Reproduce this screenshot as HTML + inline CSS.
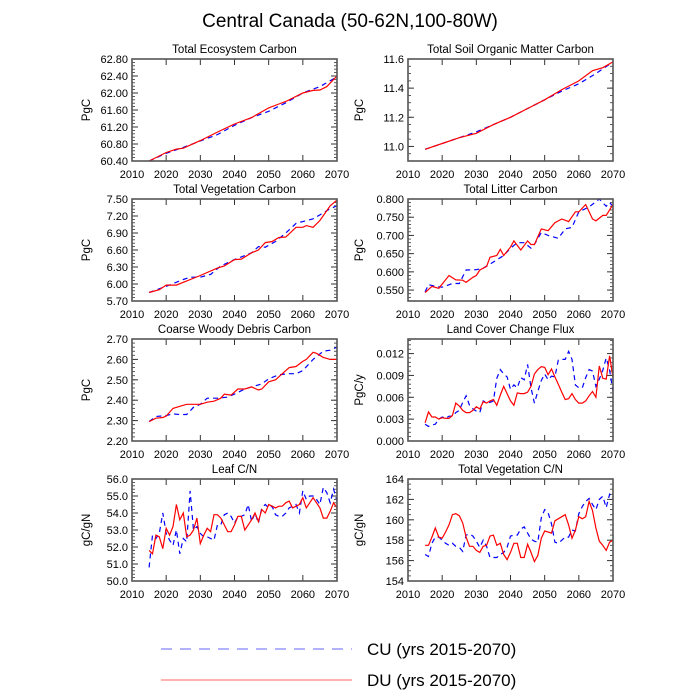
<!DOCTYPE html>
<html><head><meta charset="utf-8"><style>
body{margin:0;background:#fff;}
svg{display:block;font-family:"Liberation Sans",sans-serif;}
</style></head><body>
<svg id="chart" width="700" height="700" viewBox="0 0 700 700">
<text x="350" y="27" text-anchor="middle" font-size="19">Central Canada (50-62N,100-80W)</text>
<g id="plots"></g>
<g>
<line x1="161" y1="649" x2="352" y2="649" stroke="#6666ff" stroke-width="1" stroke-dasharray="11,8"/>
<text x="367" y="655" font-size="17">CU (yrs 2015-2070)</text>
<line x1="161" y1="680" x2="352" y2="680" stroke="#ff6666" stroke-width="1"/>
<text x="367" y="686" font-size="17">DU (yrs 2015-2070)</text>
</g>
</svg>
<script>
const ecoYearsDU=[2015,2020,2023,2025,2030,2035,2040,2045,2050,2053,2055,2060,2063,2065,2067,2070];
const ecoDU=[60.40,60.60,60.68,60.70,60.88,61.08,61.27,61.42,61.65,61.74,61.80,62.00,62.06,62.07,62.15,62.40];
const ecoYearsCU=[2015,2020,2025,2030,2035,2040,2045,2050,2055,2060,2065,2070];
const ecoCU=[60.40,60.58,60.72,60.87,61.02,61.24,61.42,61.57,61.77,62.00,62.15,62.38];

const vegYearsDU=[2015,2018,2020,2023,2025,2030,2035,2037,2040,2042,2045,2047,2049,2051,2053,2055,2058,2060,2061,2063,2065,2068,2070];
const vegDU=[5.85,5.90,5.98,5.98,6.03,6.15,6.28,6.32,6.43,6.44,6.55,6.60,6.73,6.75,6.82,6.83,7.00,7.00,7.03,7.00,7.12,7.38,7.48];
const vegYearsCU=[2015,2020,2025,2027,2030,2033,2036,2040,2045,2047,2049,2052,2055,2058,2063,2065,2068,2070];
const vegCU=[5.85,5.96,6.08,6.12,6.12,6.17,6.32,6.43,6.55,6.66,6.65,6.75,6.90,7.07,7.15,7.22,7.33,7.38];

const soilYearsDU=[2015,2020,2025,2030,2035,2040,2045,2050,2055,2060,2064,2067,2070];
const soilDU=[10.98,11.02,11.06,11.09,11.15,11.20,11.26,11.32,11.39,11.45,11.52,11.54,11.58];
const soilYearsCU=[2015,2020,2025,2030,2035,2040,2045,2050,2055,2060,2065,2070];
const soilCU=[10.98,11.02,11.06,11.10,11.15,11.20,11.26,11.32,11.38,11.43,11.50,11.58];

const litYearsDU=[2015,2017,2019,2022,2024,2026,2027,2029,2030,2031,2033,2034,2036,2037,2038,2040,2041,2043,2045,2046,2047,2049,2051,2053,2055,2057,2059,2060,2062,2064,2065,2067,2068,2070];
const litDU=[.543,.560,.555,.590,.578,.577,.571,.585,.590,.605,.615,.640,.645,.662,.645,.668,.685,.660,.685,.675,.675,.718,.713,.735,.745,.738,.765,.765,.785,.745,.740,.755,.755,.785];
const litYearsCU=[2015,2016,2018,2020,2023,2025,2027,2030,2032,2035,2038,2040,2042,2044,2046,2047,2049,2051,2054,2056,2058,2060,2063,2066,2068,2069,2070];
const litCU=[.545,.565,.560,.558,.568,.568,.605,.606,.610,.627,.645,.665,.680,.680,.665,.675,.708,.700,.692,.718,.722,.765,.778,.800,.780,.790,.780];

const cwdYearsDU=[2015,2017,2019,2020,2022,2024,2026,2030,2032,2034,2036,2037,2039,2041,2043,2045,2047,2048,2050,2052,2054,2056,2058,2060,2061,2063,2064,2066,2068,2070];
const cwdDU=[2.295,2.312,2.315,2.322,2.36,2.37,2.38,2.38,2.39,2.395,2.41,2.43,2.425,2.455,2.455,2.465,2.45,2.455,2.49,2.50,2.53,2.56,2.565,2.59,2.60,2.635,2.63,2.61,2.60,2.60];
const cwdYearsCU=[2015,2017,2020,2022,2024,2026,2028,2030,2032,2035,2038,2040,2043,2046,2048,2050,2053,2056,2058,2060,2063,2066,2068,2070];
const cwdCU=[2.295,2.32,2.325,2.333,2.33,2.33,2.365,2.38,2.41,2.41,2.415,2.43,2.455,2.47,2.48,2.505,2.525,2.53,2.53,2.545,2.60,2.64,2.645,2.66];

const annualYears=[];for(let y=2015;y<=2070;y++)annualYears.push(y);
const lccDU=[.0025,.004,.0033,.0033,.003,.0032,.0031,.0031,.0035,.0052,.0048,.0042,.0039,.0039,.0042,.0047,.0044,.0054,.0052,.0055,.0057,.0049,.0063,.0075,.0065,.0055,.0049,.0066,.0065,.0065,.0067,.0075,.0092,.0098,.0102,.0101,.0091,.0099,.0088,.0078,.0067,.0057,.0058,.0065,.0057,.0052,.0052,.0055,.0062,.0068,.006,.0103,.0086,.0085,.0117,.0087];
const lccCU=[.0023,.002,.0022,.0023,.003,.0033,.0031,.0034,.0034,.0039,.0042,.0053,.0062,.0049,.0044,.0041,.0039,.0055,.0053,.0053,.0055,.0086,.0098,.0092,.0088,.0071,.0077,.0073,.0087,.0084,.0105,.0073,.0052,.0068,.0083,.0092,.0084,.0089,.0088,.0111,.0112,.0112,.0123,.0112,.0077,.0073,.0073,.0087,.0098,.0096,.0075,.0085,.0097,.0114,.0097,.0068];
const leafDU=[51.8,51.6,52.7,52.6,51.9,53.1,52.7,53.2,54.5,53.6,54.0,52.6,52.7,53.0,53.7,52.2,52.7,53.1,52.9,53.9,53.9,53.7,53.3,52.9,52.9,53.3,53.8,53.8,53.0,53.3,53.6,54.0,53.5,54.2,54.0,54.5,54.4,54.3,54.4,54.4,54.6,54.7,54.3,54.4,54.5,54.9,54.3,54.6,54.9,54.6,54.3,53.7,53.7,54.1,54.6,54.3];
const leafCU=[50.8,52.7,52.5,52.8,54.0,52.8,52.4,52.1,53.0,51.6,52.5,52.3,55.3,53.0,53.2,52.8,52.6,52.6,52.5,52.4,53.3,53.3,53.9,54.0,53.8,53.4,53.8,53.8,53.9,54.5,53.5,54.0,53.4,54.3,54.5,54.3,54.4,53.9,53.8,53.8,54.0,54.3,54.4,54.5,54.0,55.3,54.8,55.0,55.0,54.8,54.5,55.5,55.2,54.6,55.4,54.7];
const vcnDU=[157.5,157.5,158.3,159.2,158.3,158.2,158.8,159.5,160.5,160.6,160.4,159.7,158.3,157.4,157.4,157.0,156.8,157.4,157.5,158.4,158.5,157.5,157.7,156.6,156.1,156.8,157.7,157.7,156.3,156.3,157.6,156.8,155.9,156.5,158.2,158.9,158.8,158.7,159.9,160.1,160.3,160.5,159.5,158.2,159.0,160.3,160.1,160.3,161.8,160.9,159.2,157.9,157.5,157.0,157.8,158.0];
const vcnCU=[156.6,156.4,157.7,158.3,158.3,158.0,157.7,157.5,157.7,157.4,157.3,156.9,158.5,158.6,158.4,157.9,157.3,158.0,157.4,156.3,156.3,156.3,156.6,156.8,157.3,158.4,158.5,158.5,159.1,159.3,158.7,158.1,157.9,157.8,160.2,161.0,160.7,159.6,157.8,157.7,158.0,158.3,158.3,159.0,158.9,160.6,161.3,161.8,162.1,161.5,161.0,162.0,162.3,161.2,162.5,162.0];

const xTicks=[2010,2020,2030,2040,2050,2060,2070];

const panels=[
 {name:'total-ecosystem-carbon',title:'Total Ecosystem Carbon',unit:'PgC',col:0,row:0,min:60.4,max:62.8,major:0.4,minor:0.08,dec:2,cu:[ecoYearsCU,ecoCU],du:[ecoYearsDU,ecoDU]},
 {name:'total-soil-organic-matter-carbon',title:'Total Soil Organic Matter Carbon',unit:'PgC',col:1,row:0,min:10.9,max:11.6,major:0.2,minor:0.05,dec:1,first:11.0,cu:[soilYearsCU,soilCU],du:[soilYearsDU,soilDU]},
 {name:'total-vegetation-carbon',title:'Total Vegetation Carbon',unit:'PgC',col:0,row:1,min:5.7,max:7.5,major:0.3,minor:0.06,dec:2,cu:[vegYearsCU,vegCU],du:[vegYearsDU,vegDU]},
 {name:'total-litter-carbon',title:'Total Litter Carbon',unit:'PgC',col:1,row:1,min:0.52,max:0.80,major:0.05,minor:0.01,dec:3,first:0.55,cu:[litYearsCU,litCU],du:[litYearsDU,litDU]},
 {name:'coarse-woody-debris-carbon',title:'Coarse Woody Debris Carbon',unit:'PgC',col:0,row:2,min:2.2,max:2.7,major:0.1,minor:0.02,dec:2,cu:[cwdYearsCU,cwdCU],du:[cwdYearsDU,cwdDU]},
 {name:'land-cover-change-flux',title:'Land Cover Change Flux',unit:'PgC/y',col:1,row:2,min:0,max:0.014,major:0.003,minor:0.0006,dec:3,cu:[annualYears,lccCU],du:[annualYears,lccDU]},
 {name:'leaf-cn',title:'Leaf C/N',unit:'gC/gN',col:0,row:3,min:50,max:56,major:1,minor:0.2,dec:1,cu:[annualYears,leafCU],du:[annualYears,leafDU]},
 {name:'total-vegetation-cn',title:'Total Vegetation C/N',unit:'gC/gN',col:1,row:3,min:154,max:164,major:2,minor:0.5,dec:0,cu:[annualYears,vcnCU],du:[annualYears,vcnDU]}
];

const NS='http://www.w3.org/2000/svg';
const root=document.getElementById('plots');
function mk(tag,attrs,parent){const e=document.createElementNS(NS,tag);for(const k in attrs)e.setAttribute(k,attrs[k]);parent.appendChild(e);return e;}

panels.forEach(p=>{
 const L=p.col?408:132, R=L+205, T=59+p.row*140, B=T+102;
 const xs=v=>L+(v-2010)/60*(R-L);
 const ys=v=>B-(v-p.min)/(p.max-p.min)*(B-T);
 const g=mk('g',{},root);
 
 
 const t=mk('text',{x:(L+R)/2,y:T-6,'text-anchor':'middle','font-size':11.5},g);t.textContent=p.title;
 
 
 const yl=mk('text',{x:0,y:0,'text-anchor':'middle','font-size':11.5,transform:`translate(${p.col?L-45:L-42},${(T+B)/2}) rotate(-90)`},g);yl.textContent=p.unit;
 
 
 const eps=1e-9;
 for(let v=p.min;v<=p.max+eps;v+=p.minor){const y=ys(v);
  mk('line',{x1:L,x2:L+3,y1:y,y2:y,stroke:'#333','stroke-width':0.8},g);
  mk('line',{x1:R,x2:R-3,y1:y,y2:y,stroke:'#333','stroke-width':0.8},g);}
 const start=p.first!==undefined?p.first:p.min;
 for(let v=start;v<=p.max+eps;v+=p.major){const y=ys(v);
  mk('line',{x1:L,x2:L+6,y1:y,y2:y,stroke:'#333','stroke-width':1},g);
  mk('line',{x1:R,x2:R-6,y1:y,y2:y,stroke:'#333','stroke-width':1},g);
  const tl=mk('text',{x:L-4,y:y+4,'text-anchor':'end','font-size':11},g);tl.textContent=v.toFixed(p.dec);
  
  }
 xTicks.forEach(v=>{const x=xs(v);
  mk('line',{x1:x,x2:x,y1:B,y2:B-6,stroke:'#333','stroke-width':1},g);
  mk('line',{x1:x,x2:x,y1:T,y2:T+6,stroke:'#333','stroke-width':1},g);
  const tl=mk('text',{x:x,y:B+17,'text-anchor':'middle','font-size':11},g);tl.textContent=v;
  
  });
 const line=(arr,color,dash,nm)=>{const d=arr[0].map((yr,i)=>(i?'L':'M')+xs(yr).toFixed(1)+' '+ys(arr[1][i]).toFixed(1)).join(' ');
  const pth=mk('path',{d:d,fill:'none',stroke:color,'stroke-width':1.2,'stroke-dasharray':dash},g);
  
  };
 line(p.cu,'#0000ff','5,4','cu');
 line(p.du,'#ff0000','none','du');
 const fr=mk('rect',{x:L,y:T,width:R-L,height:B-T,fill:'none',stroke:'#555','stroke-width':1.6},g);
 
 
});
</script>
</body></html>
